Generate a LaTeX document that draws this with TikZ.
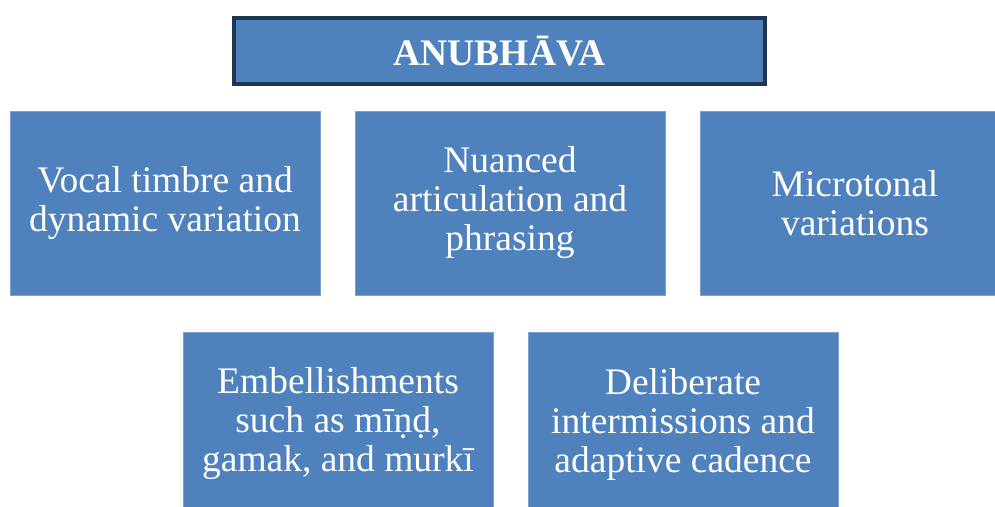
\documentclass[tikz,border=0pt]{standalone}
\usepackage{fontspec}
\setmainfont{Liberation Serif}
\usepackage{tikz}
\definecolor{boxblue}{HTML}{4F81BD}
\definecolor{boxedge}{HTML}{7DA1CE}
\definecolor{titleedge}{HTML}{1F3550}
\tikzset{basic/.style={fill=boxblue,text=white,align=center,
                       inner sep=0pt}}
\tikzset{heading/.style={basic,draw=titleedge,line width=3.5pt,
                         minimum width=531pt,minimum height=66pt,
                         font=\bfseries\fontsize{37.5}{40}\selectfont}}
\tikzset{item/.style={basic,draw=boxedge,line width=0.8pt,
                      minimum width=310pt,minimum height=184pt,
                      font=\fontsize{37.5}{39}\selectfont}}

\begin{document}
\begin{tikzpicture}[x=1pt,y=-1pt]
    \useasboundingbox (0,0) rectangle (995,506);

    % heading
    \node[heading] (anubhava) at (499.5,51) {ANUBHĀVA};

    % first row
    \foreach \t [count=\ti ] in {{Vocal timbre and\\dynamic variation},
                                 {Nuanced\\articulation and\\phrasing},
                                 {Microtonal\\variations}}{
        \node[item] (top\ti) at (\ti*345-180,203) {\t};
    }
    % second row
    \foreach \t [count=\ti ] in {{Embellishments\\such as mīṇḍ,\\gamak, and murkī},
                                 {Deliberate\\intermissions and\\adaptive cadence}}{
        \node[item] (bottom\ti) at (\ti*345-7,424) {\t};
    }
\end{tikzpicture}
\end{document}
